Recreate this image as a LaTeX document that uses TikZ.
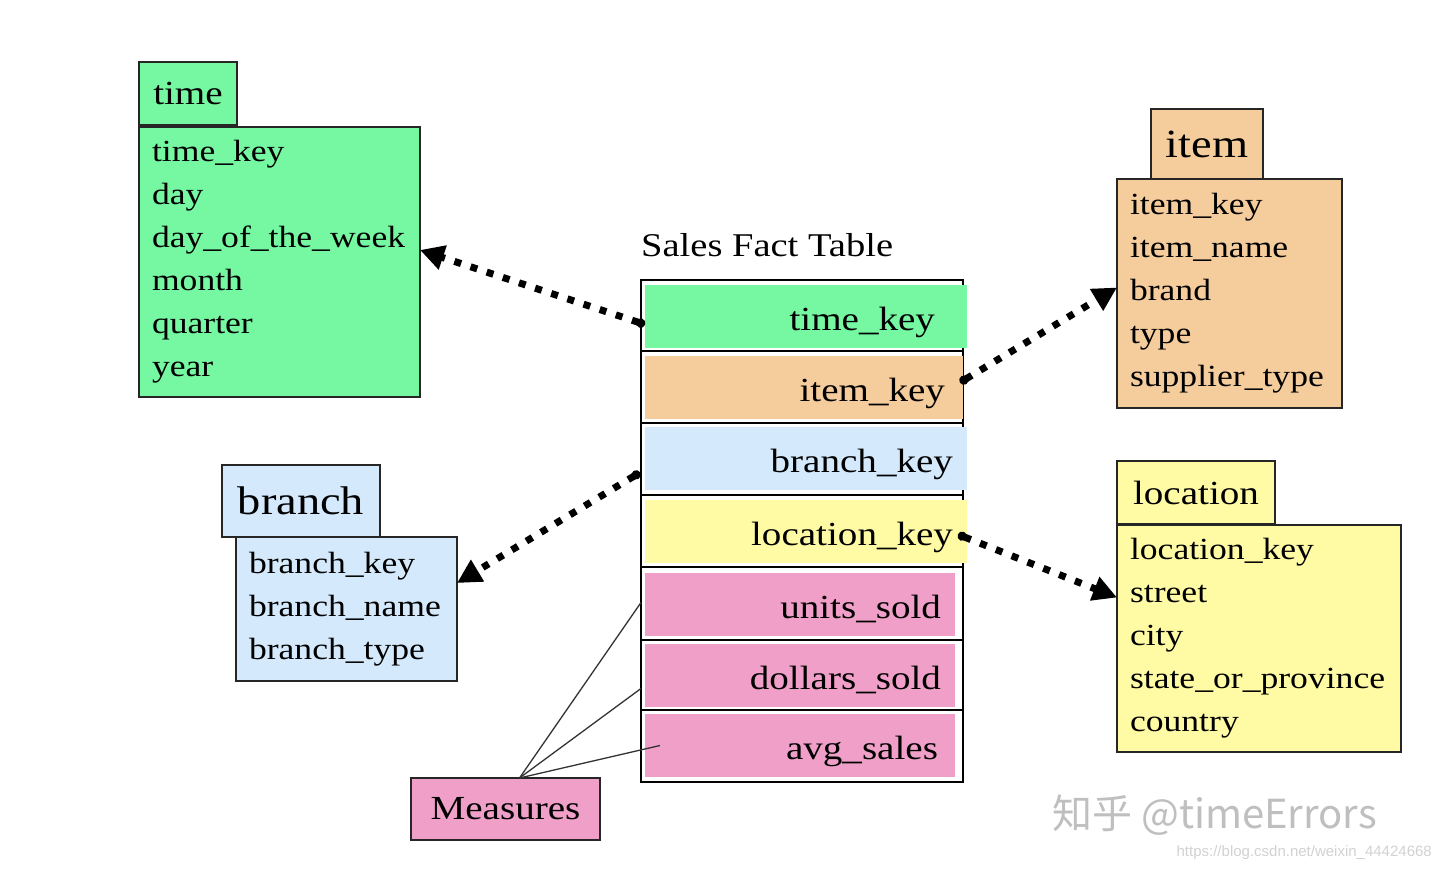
\documentclass[tikz,border=0pt]{standalone}
\usepackage{fontspec}
\setmainfont{Liberation Serif}[FakeStretch=1.16]
\newfontfamily\cjkfont{Noto Sans CJK SC}
\newfontfamily\urlfont{Liberation Sans}
\usetikzlibrary{arrows.meta,positioning}
\definecolor{dimgreen}{HTML}{76F7A1}
\definecolor{dimorange}{HTML}{F5CC9C}
\definecolor{dimblue}{HTML}{D4E9FB}
\definecolor{dimyellow}{HTML}{FFFBA4}
\definecolor{msrpink}{HTML}{F0A0C8}

\begin{document}
\begin{tikzpicture}[x=1pt,y=-1pt,
  box/.style={draw=black!85,line width=1.6pt,outer sep=0pt,inner sep=0pt,anchor=north west},
  hdr/.style={box,font=\fontsize{33.7}{40}\selectfont},
  bighdr/.style={box,font=\fontsize{40}{46}\selectfont},
  attrs/.style={box,align=left,inner xsep=13pt,font=\fontsize{30.7}{43}\selectfont},
  keyrow/.style={anchor=north west,outer sep=0pt,inner ysep=0pt,inner xsep=14pt,minimum height=63pt,
    text height=27pt,text depth=0pt,text width=294pt,align=right,font=\fontsize{33.7}{40}\selectfont},
  msrrow/.style={keyrow,fill=msrpink,text width=282pt},
  sepline/.style={line width=2.6pt,black},
  fk/.style={line width=7pt,dash pattern=on 7pt off 10pt,{Circle[length=9pt]}-{Triangle[length=24pt,width=24pt]}},
  msrline/.style={draw=black!80,line width=1.3pt}]
\fill[white] (0,0) rectangle (1440,872);
\useasboundingbox (0,0) rectangle (1440,872);

\node[hdr,fill=dimgreen,minimum width=98pt,minimum height=63pt] (th) at (139,62) {time};
\node[attrs,fill=dimgreen,text width=255pt,minimum height=270pt] (tb) at (139,127)
  {time\_key\\ day\\ day\_of\_the\_week\\ month\\ quarter\\ year};

\node[bighdr,fill=dimorange,minimum width=112pt,minimum height=71pt] (ih) at (1151,109) {item};
\node[attrs,fill=dimorange,text width=199pt,minimum height=229pt] (ib) at (1117,179)
  {item\_key\\ item\_name\\ brand\\ type\\ supplier\_type};

\node[bighdr,fill=dimblue,minimum width=158pt,minimum height=72pt] (bh) at (222,465) {branch};
\node[attrs,fill=dimblue,text width=195pt,minimum height=144pt] (bb) at (236,537)
  {branch\_key\\ branch\_name\\ branch\_type};

\node[hdr,fill=dimyellow,minimum width=158pt,minimum height=63pt] (lh) at (1117,461) {location};
\node[attrs,fill=dimyellow,text width=258pt,minimum height=227pt] (lb) at (1117,525)
  {location\_key\\ street\\ city\\ state\_or\_province\\ country};

\node[box,draw=black,line width=2pt,minimum width=322pt,minimum height=502pt] (fact) at (641,280) {};
\node[anchor=west,inner sep=0pt,font=\fontsize{33.2}{40}\selectfont] (title) at (641,245) {Sales Fact Table};

\node[keyrow,fill=dimgreen,inner xsep=32pt,text width=258pt] (tk) at (645,285) {time\_key};
\node[keyrow,fill=dimorange,inner xsep=18pt,text width=282pt] (ik) at (645,356) {item\_key};
\node[keyrow,fill=dimblue] (bk) at (645,427) {branch\_key};
\node[keyrow,fill=dimyellow] (lk) at (645,500) {location\_key};
\node[msrrow] (us) at (645,573) {units\_sold};
\node[msrrow] (ds) at (645,644) {dollars\_sold};
\node[msrrow,inner xsep=17pt,text width=276pt] (av) at (645,714) {avg\_sales};
\foreach \y in {351,423,495,567,640,710}
  \draw[sepline] (641,\y) -- (963,\y);

\node[hdr,fill=msrpink,minimum width=189pt,minimum height=62pt] (msr) at (411,778) {Measures};
\draw[msrline] ([xshift=14pt]msr.north) -- ([xshift=-4pt,yshift=2pt]us.west);
\draw[msrline] ([xshift=14pt]msr.north) -- ([xshift=-4pt,yshift=-13pt]ds.west);
\draw[msrline] ([xshift=14pt]msr.north) -- ([xshift=15pt]av.west);

\draw[fk] ([yshift=-8pt]tk.west) -- ([yshift=12pt]tb.east);
\draw[fk] ([xshift=-3pt,yshift=5pt]ik.east) -- ([yshift=6pt]ib.west);
\draw[fk] ([xshift=-5pt,yshift=-14pt]bk.west) -- ([yshift=26pt]bb.east);
\draw[fk] ([xshift=-9pt,yshift=-3pt]lk.east) -- ([yshift=41pt]lb.west);

\node[anchor=west,inner sep=0pt,text=gray!50,font=\cjkfont\fontsize{40}{40}\selectfont] (wm) at (1052,815) {知乎 @timeErrors};
\node[anchor=east,inner sep=0pt,text=gray!35,font=\urlfont\fontsize{15}{15}\selectfont] (url) at (1432,853) {https://blog.csdn.net/weixin\_44424668};
\end{tikzpicture}
\end{document}
